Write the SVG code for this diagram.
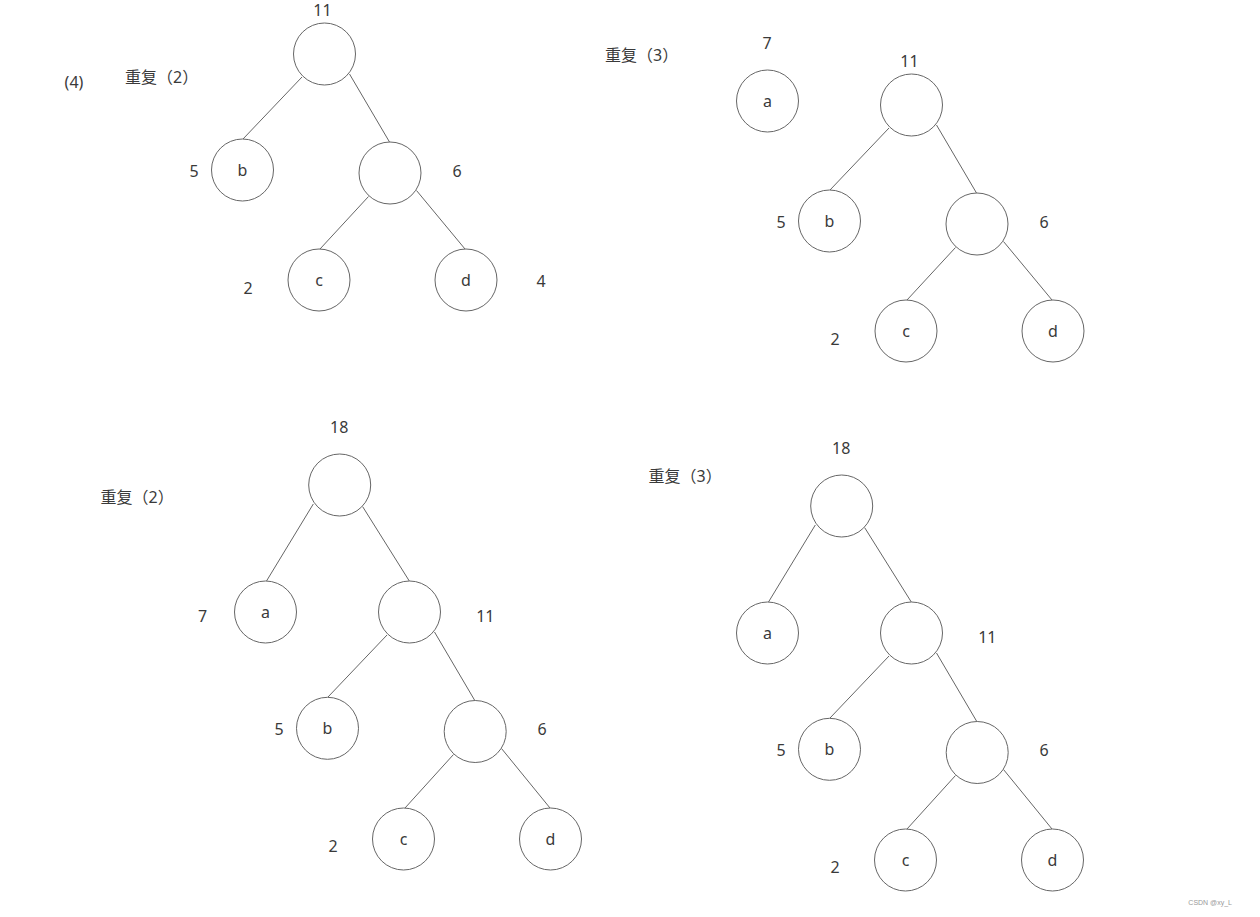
<svg xmlns="http://www.w3.org/2000/svg" width="1260" height="917" viewBox="0 0 1260 917">
<style>
.n{fill:#fff;stroke:#666;stroke-width:1}
.e line{stroke:#666;stroke-width:1}
.t{font-family:"Noto Sans","Noto Sans CJK SC",sans-serif;font-size:16px;fill:#3a3a3a;text-anchor:middle}
.l{font-family:"Noto Sans","Noto Sans CJK SC",sans-serif;font-size:16px;fill:#3a3a3a}
.w{font-family:"Liberation Sans",sans-serif;font-size:7px;fill:#999;text-anchor:end}
</style>
<rect width="1260" height="917" fill="#fff"/>
<g id="connectors" class="e">
<!-- tree 1 -->
<line x1="302" y1="77" x2="243" y2="139"/>
<line x1="349.5" y1="74" x2="389.5" y2="142"/>
<line x1="368.5" y1="196.5" x2="320" y2="249"/>
<line x1="416.5" y1="190.5" x2="465" y2="249"/>
<!-- tree 2 -->
<line x1="889" y1="128" x2="830" y2="190"/>
<line x1="936.5" y1="125" x2="976.5" y2="193"/>
<line x1="955.5" y1="247.5" x2="907" y2="300"/>
<line x1="1003.5" y1="241.5" x2="1052" y2="300"/>
<!-- tree 3 -->
<line x1="313.3" y1="504" x2="266.5" y2="581"/>
<line x1="362.7" y1="506.7" x2="409.3" y2="581"/>
<line x1="387" y1="635" x2="328" y2="697"/>
<line x1="434.5" y1="632" x2="474.5" y2="700"/>
<line x1="453.5" y1="754.5" x2="405" y2="808"/>
<line x1="501.5" y1="748.5" x2="550" y2="808"/>
<!-- tree 4 -->
<line x1="815.3" y1="525" x2="768.5" y2="602"/>
<line x1="864.7" y1="527.7" x2="911.3" y2="602"/>
<line x1="889" y1="656" x2="830" y2="718"/>
<line x1="936.5" y1="653" x2="976.5" y2="721"/>
<line x1="955.5" y1="775.5" x2="907" y2="829"/>
<line x1="1003.5" y1="769.5" x2="1052" y2="829"/>
</g>

<!-- tree 1 -->
<g id="t1-root"><circle class="n" cx="324.5" cy="54" r="31"/><text class="t" x="322.5" y="15.5">11</text></g>
<g id="t1-b"><circle class="n" cx="242.5" cy="170" r="31"/><text class="t" x="242.5" y="176">b</text><text class="t" x="194" y="176.5">5</text></g>
<g id="t1-h6"><circle class="n" cx="390" cy="173" r="31"/><text class="t" x="457" y="176.5">6</text></g>
<g id="t1-c"><circle class="n" cx="319" cy="280" r="31"/><text class="t" x="319" y="286">c</text><text class="t" x="248" y="293.5">2</text></g>
<g id="t1-d"><circle class="n" cx="466" cy="280" r="31"/><text class="t" x="466" y="286">d</text><text class="t" x="541" y="287">4</text></g>
<g id="t1-labels"><text class="t" x="74" y="88">(4)</text><text class="l" x="125" y="83">重复（2）</text></g>

<!-- tree 2 -->
<g id="t2-a"><circle class="n" cx="767.5" cy="101" r="31"/><text class="t" x="767.5" y="107">a</text><text class="t" x="767" y="49">7</text></g>
<g id="t2-root"><circle class="n" cx="911.5" cy="105" r="31"/><text class="t" x="909.5" y="66.5">11</text></g>
<g id="t2-b"><circle class="n" cx="829.5" cy="221" r="31"/><text class="t" x="829.5" y="227">b</text><text class="t" x="781" y="227.5">5</text></g>
<g id="t2-h6"><circle class="n" cx="977" cy="224" r="31"/><text class="t" x="1044" y="227.5">6</text></g>
<g id="t2-c"><circle class="n" cx="906" cy="331" r="31"/><text class="t" x="906" y="337">c</text><text class="t" x="835" y="344.5">2</text></g>
<g id="t2-d"><circle class="n" cx="1053" cy="331" r="31"/><text class="t" x="1053" y="337">d</text></g>
<g id="t2-labels"><text class="l" x="605" y="61">重复（3）</text></g>

<!-- tree 3 -->
<g id="t3-root"><circle class="n" cx="339.7" cy="485" r="31"/><text class="t" x="339.2" y="433.3">18</text></g>
<g id="t3-a"><circle class="n" cx="265.5" cy="612" r="31"/><text class="t" x="265.5" y="618">a</text><text class="t" x="202.5" y="621.5">7</text></g>
<g id="t3-h11"><circle class="n" cx="409.5" cy="612" r="31"/><text class="t" x="485.3" y="621.5">11</text></g>
<g id="t3-b"><circle class="n" cx="327.5" cy="728.3" r="31"/><text class="t" x="327.5" y="734.3">b</text><text class="t" x="279" y="734.5">5</text></g>
<g id="t3-h6"><circle class="n" cx="475.2" cy="731.5" r="31"/><text class="t" x="542" y="734.5">6</text></g>
<g id="t3-c"><circle class="n" cx="403.5" cy="839" r="31"/><text class="t" x="403.5" y="845">c</text><text class="t" x="333" y="851.5">2</text></g>
<g id="t3-d"><circle class="n" cx="550.5" cy="839" r="31"/><text class="t" x="550.5" y="845">d</text></g>
<g id="t3-labels"><text class="l" x="100.5" y="503">重复（2）</text></g>

<!-- tree 4 -->
<g id="t4-root"><circle class="n" cx="841.7" cy="506" r="31"/><text class="t" x="841.2" y="454.3">18</text></g>
<g id="t4-a"><circle class="n" cx="767.5" cy="633" r="31"/><text class="t" x="767.5" y="639">a</text></g>
<g id="t4-h11"><circle class="n" cx="911.5" cy="633" r="31"/><text class="t" x="987.3" y="642.5">11</text></g>
<g id="t4-b"><circle class="n" cx="829.5" cy="749.3" r="31"/><text class="t" x="829.5" y="755.3">b</text><text class="t" x="781" y="755.5">5</text></g>
<g id="t4-h6"><circle class="n" cx="977.2" cy="752.5" r="31"/><text class="t" x="1044" y="755.5">6</text></g>
<g id="t4-c"><circle class="n" cx="905.5" cy="860" r="31"/><text class="t" x="905.5" y="866">c</text><text class="t" x="835" y="872.5">2</text></g>
<g id="t4-d"><circle class="n" cx="1052.5" cy="860" r="31"/><text class="t" x="1052.5" y="866">d</text></g>
<g id="t4-labels"><text class="l" x="648.5" y="482">重复（3）</text></g>

<text class="w" x="1232" y="905">CSDN @xy_L</text>
</svg>
